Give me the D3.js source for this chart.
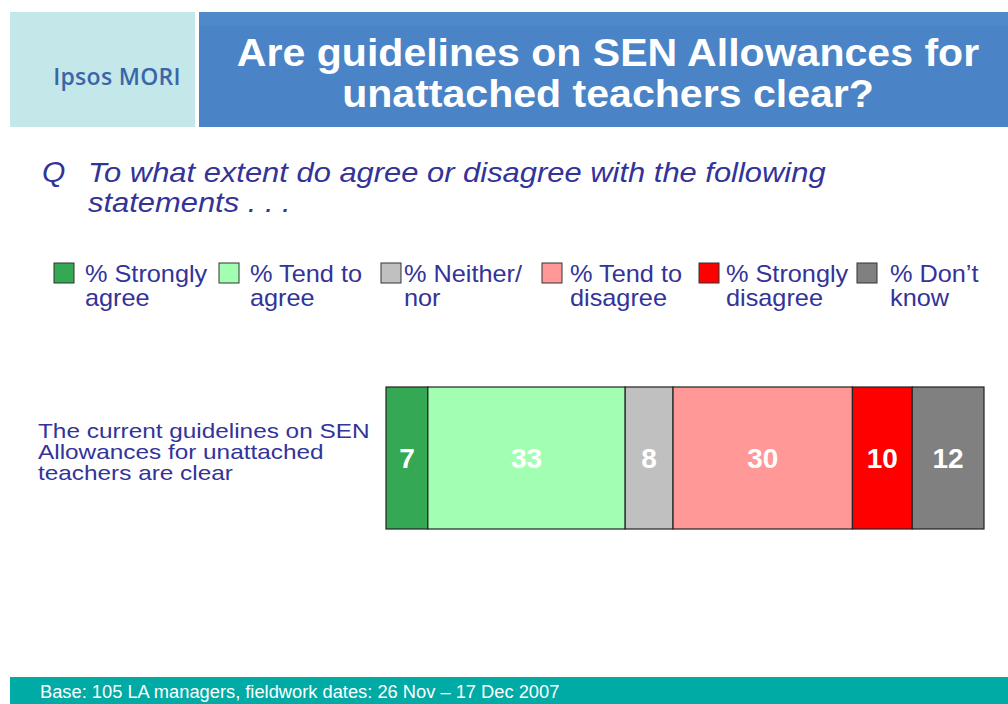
<!DOCTYPE html>
<html>
<head>
<meta charset="utf-8">
<script src="https://cdn.jsdelivr.net/npm/d3@7/dist/d3.min.js"></script>
<style>
  html, body { margin: 0; padding: 0; background: #fff; }
  svg { display: block; font-family: "Liberation Sans", Arial, sans-serif; }
</style>
</head>
<body>
<svg id="chart" width="1008" height="704"></svg>
<script>
(function () {
  'use strict';

  // data
  const categories = ['The current guidelines on SEN Allowances for unattached teachers are clear'];
  const categoryLines = [['The current guidelines on SEN', 'Allowances for unattached', 'teachers are clear']];
  const seriesNames = ['Strongly agree', 'Tend to agree', 'Neither/ nor', 'Tend to disagree', 'Strongly disagree', "Don't know"];
  const legendLines = [
    ['% Strongly', 'agree'], ['% Tend to', 'agree'], ['% Neither/', 'nor'],
    ['% Tend to', 'disagree'], ['% Strongly', 'disagree'], ['% Don\u2019t', 'know']
  ];
  const values = [7, 33, 8, 30, 10, 12];
  const colors = ['#34a853', '#a2ffb2', '#c0c0c0', '#ff9896', '#ff0000', '#808080'];

  const TEXT = '#333399';
  const svg = d3.select('#chart');

  // header
  svg.append('rect').attr('x', 10).attr('y', 12).attr('width', 185).attr('height', 115).attr('fill', '#c4e7e9');
  svg.append('text').attr('x', 117).attr('y', 85).attr('text-anchor', 'middle')
    .style('font-family', '"Open Sans", Lato, sans-serif').style('font-size', '23px')
    .style('font-weight', 600).style('fill', '#3a66a8').style('letter-spacing', '0.3px')
    .text('Ipsos MORI');
  svg.append('rect').attr('x', 199).attr('y', 12).attr('width', 809).attr('height', 115).attr('fill', '#4a84c6');
  svg.append('rect').attr('x', 199).attr('y', 12).attr('width', 809).attr('height', 14).attr('fill', '#4e89ca');
  const title = svg.append('g').attr('transform', 'translate(608,0) scale(1.045,1)')
    .append('text').attr('text-anchor', 'middle')
    .style('font-size', '39.3px').style('font-weight', 'bold').style('fill', '#fff');
  title.append('tspan').attr('x', 0).attr('y', 66).text('Are guidelines on SEN Allowances for');
  title.append('tspan').attr('x', 0).attr('y', 107).text('unattached teachers clear?');

  // question
  svg.append('text').attr('x', 42).attr('y', 182)
    .style('font-size', '30px').style('font-style', 'italic').style('fill', TEXT).text('Q');
  const q = svg.append('g').attr('transform', 'translate(88,0) scale(1.085,1)')
    .append('text').style('font-size', '28.5px').style('font-style', 'italic').style('fill', TEXT);
  q.append('tspan').attr('x', 0).attr('y', 182).text('To what extent do agree or disagree with the following');
  q.append('tspan').attr('x', 0).attr('y', 212).text('statements . . .');

  // legend
  const legendX = [54, 219, 381, 542, 699, 857];
  const legendTextX = [85, 250, 404, 570, 726, 890];
  const lg = svg.append('g').selectAll('g').data(seriesNames).join('g');
  lg.append('rect')
    .attr('x', (d, i) => legendX[i]).attr('y', 263).attr('width', 20).attr('height', 20)
    .attr('fill', (d, i) => colors[i]).attr('stroke', '#333').attr('stroke-width', 1);
  const lt = lg.append('g')
    .attr('transform', (d, i) => `translate(${legendTextX[i]},0) scale(1.1,1)`)
    .append('text').style('font-size', '23px').style('fill', TEXT);
  lt.append('tspan').attr('x', 0).attr('y', 282).text((d, i) => legendLines[i][0]);
  lt.append('tspan').attr('x', 0).attr('y', 306).text((d, i) => legendLines[i][1]);

  // bar
  const x = d3.scaleLinear().domain([0, d3.sum(values)]).range([386, 984]);
  const y = d3.scaleBand().domain(categories).range([387, 529]).padding(0);
  let acc = 0;
  const segs = values.map((v, i) => { const s = { v, i, x0: acc, x1: acc + v }; acc += v; return s; });

  const bars = svg.append('g');
  bars.selectAll('rect').data(segs).join('rect')
    .attr('x', d => x(d.x0)).attr('y', y(categories[0]))
    .attr('width', d => x(d.x1) - x(d.x0)).attr('height', y.bandwidth())
    .attr('fill', d => colors[d.i]).attr('stroke', '#222').attr('stroke-width', 1.2);
  bars.selectAll('text').data(segs).join('text')
    .attr('x', d => (x(d.x0) + x(d.x1)) / 2).attr('y', y(categories[0]) + y.bandwidth() / 2 + 10)
    .attr('text-anchor', 'middle')
    .style('font-size', '28px').style('font-weight', 'bold').style('fill', '#fff')
    .text(d => d.v);

  // category label
  const cl = svg.append('g').attr('transform', 'translate(38,0) scale(1.2,1)')
    .append('text').style('font-size', '20.3px').style('fill', TEXT);
  categoryLines[0].forEach((line, i) => {
    cl.append('tspan').attr('x', 0).attr('y', 438 + i * 21).text(line);
  });

  // footer
  svg.append('rect').attr('x', 10).attr('y', 677).attr('width', 998).attr('height', 27).attr('fill', '#00aaa5');
  svg.append('text').attr('x', 40).attr('y', 698)
    .style('font-size', '18.3px').style('fill', '#fff')
    .text('Base:  105 LA managers, fieldwork dates: 26 Nov \u2013 17 Dec 2007');
})();
</script>
</body>
</html>
